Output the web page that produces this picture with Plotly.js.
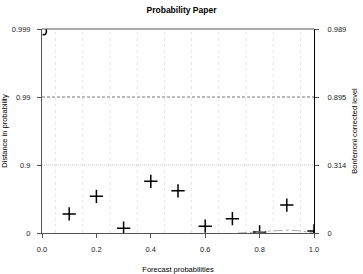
<!DOCTYPE html>
<html><head><meta charset="utf-8">
<script src="https://cdn.plot.ly/plotly-3.0.1.min.js"></script>
<style>html,body{margin:0;padding:0;background:#fff}#c{width:363px;height:274px}</style>
</head><body><div id="c"></div>
<script>
// Forecast probabilities and observed distance (in -log10(1-p) units)
const forecast = [0.1, 0.2, 0.3, 0.4, 0.5, 0.6, 0.7, 0.8, 0.9, 1.0];
const distance = [0.28, 0.54, 0.07, 0.76, 0.62, 0.10, 0.21, 0.015, 0.41, 0.03];
// left axis tick labels (probability) and right axis (Bonferroni corrected level)
const tickPos = [0, 1, 2, 3];
const leftLabels = ["0", "0.9", "0.99", "0.999"];
const rightLabels = ["0", "0.314", "0.895", "0.989"];
const gridX = [0.05, 0.15, 0.25, 0.35, 0.45, 0.55, 0.65, 0.75, 0.85, 0.95];
// envelope curve near the bottom right
const curveX = [0.72, 0.76, 0.80, 0.84, 0.88, 0.91, 0.94, 0.97, 0.99, 1.0];
const curveY = [0.0, 0.005, 0.015, 0.03, 0.04, 0.042, 0.035, 0.02, 0.008, 0.0];
// hook at the top left
const hookX = [0.016, 0.016, 0.013, 0.008, 0.002];
const hookY = [3.0, 2.95, 2.925, 2.915, 2.92];

const F = "Liberation Sans, Arial, sans-serif";
const TF = {family:F, size:7.5, color:'#222'};
const shapes = [];
gridX.forEach(g => shapes.push({type:'line', xref:'x', yref:'paper', x0:g, x1:g, y0:0, y1:1,
  line:{color:'#e6e6e6', width:1, dash:'dot'}, layer:'below'}));
shapes.push({type:'line', xref:'paper', yref:'y', x0:0, x1:1, y0:2, y1:2, line:{color:'#777', width:1, dash:'3px,2px'}});
shapes.push({type:'line', xref:'paper', yref:'y', x0:0, x1:1, y0:1, y1:1, line:{color:'#c8c8c8', width:1, dash:'1px,1px'}});

const traces = [
  {x: forecast, y: distance, mode:'markers', type:'scatter',
   marker:{symbol:'cross-thin', size:9.5, line:{color:'#000', width:1.5}, color:'#000'}},
  {x: curveX, y: curveY, mode:'lines', type:'scatter', line:{color:'#aaa', width:1, dash:'dashdot'}},
  {x: hookX, y: hookY, mode:'lines', type:'scatter', line:{color:'#000', width:1.5}},
  {x: [1.0, 1.0], y: [0, 0.05], mode:'lines', type:'scatter', line:{color:'#000', width:1.5}},
  {x: [0], y: [0], yaxis:'y2', mode:'markers', marker:{opacity:0}, hoverinfo:'skip'}
];

const layout = {
  width:363, height:274, showlegend:false,
  paper_bgcolor:'#fff', plot_bgcolor:'#fff',
  margin:{l:42, r:49, t:29, b:41},
  font:{family:F, size:7.5, color:'#222'},
  title:{text:'<b>Probability Paper</b>', x:0.5, xanchor:'center', y:0.975, yanchor:'top',
    font:{family:F, size:8.5, color:'#000'}},
  xaxis:{range:[0,1], tickvals:[0,0.2,0.4,0.6,0.8,1.0], ticktext:['0.0','0.2','0.4','0.6','0.8','1.0'],
    showgrid:false, zeroline:false, showline:true, linecolor:'#555', linewidth:1,
    ticks:'outside', ticklen:4, tickcolor:'#555', tickfont:TF, ticklabelstandoff:5,
    title:{text:'Forecast probabilities', font:{family:F, size:7.5, color:'#000'}, standoff:14}},
  yaxis:{range:[0,3], tickvals:tickPos, ticktext:leftLabels, showgrid:false, zeroline:false,
    showline:true, linecolor:'#555', linewidth:1, ticks:'outside', ticklen:4, tickcolor:'#555',
    tickfont:TF, ticklabelstandoff:5,
    title:{text:'Distance in probability', font:{family:F, size:7.5, color:'#000'}, standoff:3}},
  yaxis2:{range:[0,3], overlaying:'y', side:'right', tickvals:tickPos, ticktext:rightLabels,
    showgrid:false, zeroline:false, showline:true, linecolor:'#000', linewidth:1,
    ticks:'outside', ticklen:4, tickcolor:'#555', tickfont:TF, ticklabelstandoff:7,
    title:{text:'Bonferroni corrected level', font:{family:F, size:7.5, color:'#000'}, standoff:6}},
  shapes: shapes.concat([{type:'line', xref:'paper', yref:'paper', x0:0, x1:1, y0:1, y1:1, line:{color:'#555', width:1}}])
};
Plotly.newPlot('c', traces, layout, {staticPlot:true, displayModeBar:false});
</script></body></html>
